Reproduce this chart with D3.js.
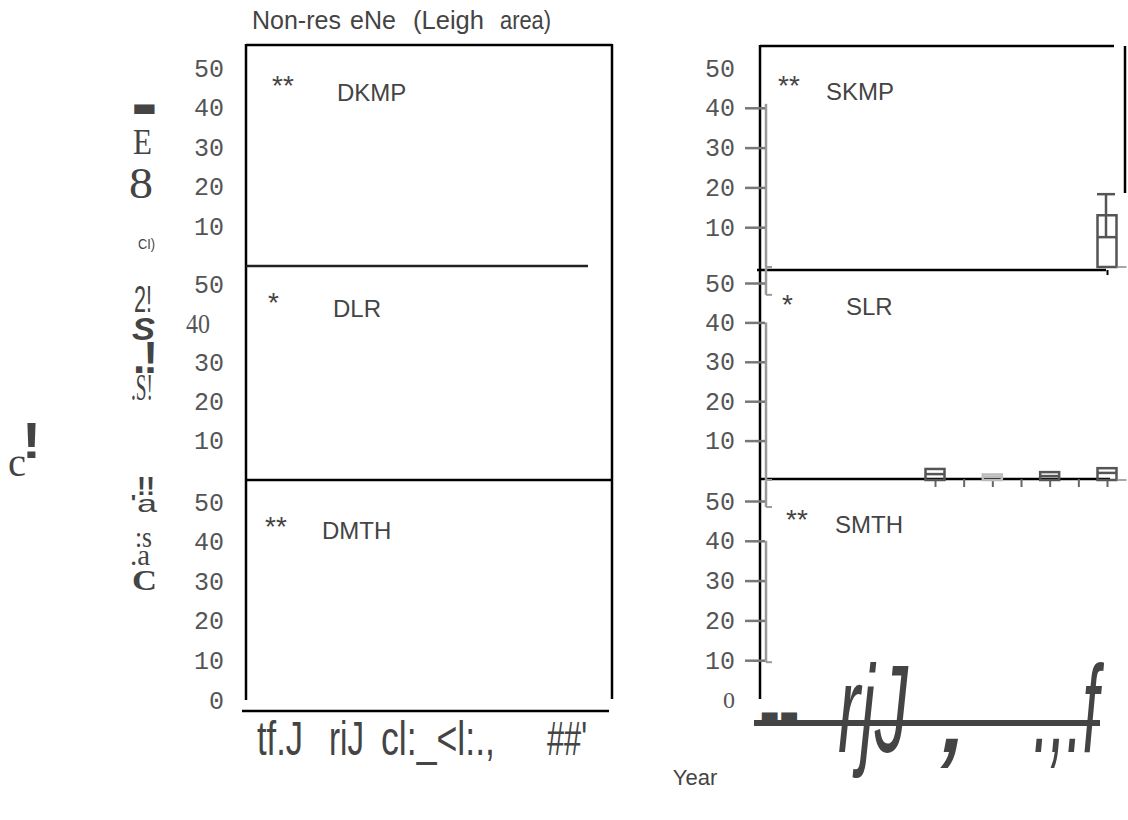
<!DOCTYPE html>
<html>
<head>
<meta charset="utf-8">
<script src="https://cdn.jsdelivr.net/npm/d3@7"></script>
<style>
  body { margin: 0; background: #fff; }
  svg { display: block; }
</style>
</head>
<body>
<svg id="chart" width="1128" height="820"></svg>
<script>
// ---- data ----
var yTicks = [50, 40, 30, 20, 10];
var yearSlots = [1, 2, 3, 4, 5, 6, 7];
var leftNames = ["DKMP", "DLR", "DMTH"];
var rightNames = ["SKMP", "SLR", "SMTH"];
var signif = ["**", "*", "**"];
var titleWords = ["Non-res", "eNe", "(Leigh", "area)"];
var xLabelsLeft = ["tf.J", "riJ", "cl:_<l:.,", "##'"];
var xLabelsRight = ["rjJ", ",", ".,.f"];

// box plots (value units) in the right column
var skmpBoxes = [{ year: 7, q1: 0, median: 7.5, q3: 13, hi: 18.3 }];
var slrBoxes = [
  { year: 1, q1: 0, median: 1.5, q3: 2.8 },
  { year: 3, q1: 0, median: 0.8, q3: 1.4 },
  { year: 5, q1: 0, median: 1.0, q3: 2.0 },
  { year: 7, q1: 0, median: 1.8, q3: 3.0 }
];

// faint scanned axis remnants in the right column, [from, to] in value units
var scanTraces = [
  [[0, 41]],
  [[0, 40], [47, 54]],
  [[9.5, 40], [48.5, 55]]
];

var svg = d3.select("#chart");
var ink = "#444";

// ---- scales ----
var yLeft = [
  d3.scaleLinear().domain([0, 50]).range([266, 68]),
  d3.scaleLinear().domain([0, 50]).range([480, 284]),
  d3.scaleLinear().domain([0, 50]).range([700, 502])
];
var yRight = [
  d3.scaleLinear().domain([0, 50]).range([267, 68]),
  d3.scaleLinear().domain([0, 50]).range([480, 283]),
  d3.scaleLinear().domain([0, 50]).range([700, 501])
];
var xRight = d3.scalePoint().domain(yearSlots).range([935, 1107]);

function line(x1, y1, x2, y2, w, c) {
  svg.append("line")
    .attr("x1", x1).attr("y1", y1).attr("x2", x2).attr("y2", y2)
    .style("stroke", c || "#000")
    .style("stroke-width", w || 2);
}

function label(txt, x, y, opt) {
  opt = opt || {};
  var t = svg.append("text")
    .attr("x", x).attr("y", y)
    .style("font-family", opt.font || "'Liberation Sans', Arial, sans-serif")
    .style("font-size", (opt.size || 24) + "px")
    .style("font-weight", opt.weight || "normal")
    .style("font-style", opt.style || "normal")
    .style("fill", opt.fill || ink)
    .attr("text-anchor", opt.anchor || "start")
    .text(txt);
  if (opt.len) {
    t.attr("textLength", opt.len).attr("lengthAdjust", opt.adjust || "spacingAndGlyphs");
  }
  return t;
}

// ---- title ----
label(titleWords[0], 252, 29, { size: 25 });
label(titleWords[1], 350, 29, { size: 25 });
label(titleWords[2], 413, 29, { size: 25, len: 71 });
label(titleWords[3], 500, 29, { size: 25, len: 51 });

// ---- left column frame ----
line(246, 45, 612, 45, 2.5);
line(246, 44, 246, 700, 2.5);
line(612, 44, 612, 699, 2.5);
line(246, 266, 588, 266, 2.5, "#222");
line(246, 480, 612, 480, 2.5);
line(242, 711, 609, 711, 2.5);

// left y axes
yLeft.forEach(function(y, i) {
  var ticks = i === 2 ? yTicks.concat([0]) : yTicks;
  var g = svg.append("g")
    .attr("transform", "translate(246,0)")
    .call(d3.axisLeft(y).tickValues(ticks).tickSize(0).tickPadding(22));
  g.select(".domain").remove();
  g.selectAll("text")
    .style("font-family", "'Liberation Mono', 'DejaVu Sans Mono', monospace")
    .style("font-size", "25px")
    .style("fill", "#555");
  if (i === 1) {
    g.selectAll(".tick").filter(function(d) { return d === 40; }).select("text")
      .style("font-family", "'Liberation Serif', serif")
      .style("font-size", "28px")
      .attr("x", -36)
      .attr("textLength", 24)
      .attr("lengthAdjust", "spacingAndGlyphs");
  }
});

// left panel names
var leftStar = [[272, 95], [268, 312], [265, 536]];
var leftName = [[337, 101], [333, 317], [322, 539]];
leftNames.forEach(function(n, i) {
  label(signif[i], leftStar[i][0], leftStar[i][1], { size: 28 });
  label(n, leftName[i][0], leftName[i][1]);
});

// ---- right column frame ----
line(760, 46, 1114, 46, 2.5);
line(1125, 46, 1125, 193, 2.5);
line(760, 45, 760, 699, 2.5);
line(757, 270, 1106, 270, 2.5);
line(760, 479, 1110, 479, 2.5);
line(754, 723, 1100, 723, 6, ink);

// scanned remnant traces
scanTraces.forEach(function(segs, i) {
  segs.forEach(function(s) {
    line(766, yRight[i](s[1]), 766, yRight[i](s[0]), 2.5, "#999");
    line(766, yRight[i](s[0]), 772, yRight[i](s[0]), 2, "#999");
  });
});

// right y axes
yRight.forEach(function(y, i) {
  var ticks = i === 2 ? yTicks.concat([0]) : yTicks;
  var g = svg.append("g")
    .attr("transform", "translate(765,0)")
    .call(d3.axisLeft(y).tickValues(ticks).tickSize(20).tickPadding(10));
  g.select(".domain").remove();
  g.selectAll(".tick line").style("stroke", "#777").style("stroke-width", 2.5);
  g.selectAll("text")
    .style("font-family", "'Liberation Mono', 'DejaVu Sans Mono', monospace")
    .style("font-size", "25px")
    .style("fill", "#555");
  if (i === 0) {
    g.selectAll(".tick").filter(function(d) { return d === 50; }).select("line").remove();
  }
  if (i === 2) {
    var z = g.selectAll(".tick").filter(function(d) { return d === 0; });
    z.select("line").remove();
    z.select("text")
      .style("font-family", "'Liberation Serif', serif")
      .style("font-size", "24px");
  }
});

// x ticks in the right column
var gx0 = svg.append("g").attr("transform", "translate(0,270)")
  .call(d3.axisBottom(xRight).tickValues([7]).tickSize(5).tickFormat(""));
gx0.select(".domain").remove();
gx0.selectAll("line").style("stroke", "#000").style("stroke-width", 2);

var gx1 = svg.append("g").attr("transform", "translate(0,479)")
  .call(d3.axisBottom(xRight).tickSize(8).tickFormat(""));
gx1.select(".domain").remove();
gx1.selectAll("line").style("stroke", "#666").style("stroke-width", 2);

// box plots
function drawBoxes(data, y, boxW, colorFn) {
  var g = svg.append("g");
  var b = g.selectAll("g.box").data(data).enter().append("g").attr("class", "box");
  b.append("rect")
    .attr("x", function(d) { return xRight(d.year) - boxW / 2; })
    .attr("y", function(d) { return y(d.q3); })
    .attr("width", boxW)
    .attr("height", function(d) { return y(d.q1) - y(d.q3); })
    .style("fill", "none")
    .style("stroke", colorFn)
    .style("stroke-width", 2.5);
  b.append("line")
    .attr("x1", function(d) { return xRight(d.year) - boxW / 2; })
    .attr("x2", function(d) { return xRight(d.year) + boxW / 2; })
    .attr("y1", function(d) { return y(d.median); })
    .attr("y2", function(d) { return y(d.median); })
    .style("stroke", colorFn)
    .style("stroke-width", 2.5);
  b.filter(function(d) { return d.hi != null; }).each(function(d) {
    var s = d3.select(this);
    s.append("line")
      .attr("x1", xRight(d.year) - 1).attr("x2", xRight(d.year) - 1)
      .attr("y1", y(d.hi)).attr("y2", y(d.median))
      .style("stroke", colorFn(d)).style("stroke-width", 2.5);
    s.append("line")
      .attr("x1", xRight(d.year) - 10).attr("x2", xRight(d.year) + 8)
      .attr("y1", y(d.hi)).attr("y2", y(d.hi))
      .style("stroke", colorFn(d)).style("stroke-width", 2.5);
  });
  b.append("line")
    .attr("x1", function(d) { return xRight(d.year) + boxW / 2; })
    .attr("x2", function(d) { return xRight(d.year) + boxW / 2 + 10; })
    .attr("y1", function(d) { return y(0); })
    .attr("y2", function(d) { return y(0); })
    .style("stroke", "#888")
    .style("stroke-width", function(d) { return d.year === 7 ? 1.5 : 0; });
}
drawBoxes(skmpBoxes, yRight[0], 19, function() { return "#555"; });
drawBoxes(slrBoxes, yRight[1], 19, function(d) { return d.year === 3 ? "#bbb" : "#555"; });

// right panel names
var rightStar = [[778, 95], [782, 314], [786, 529]];
var rightName = [[826, 100], [846, 315], [835, 533]];
rightNames.forEach(function(n, i) {
  label(signif[i], rightStar[i][0], rightStar[i][1], { size: 28 });
  label(n, rightName[i][0], rightName[i][1]);
});

// ---- garbled y-axis title glyphs (left) ----
var serif = "'Liberation Serif', 'DejaVu Serif', serif";
label("\u25AC", 132, 116, { font: "'DejaVu Sans', sans-serif", size: 26, len: 25 });
label("E", 133, 154, { font: serif, size: 36, len: 19 });
label("8", 129, 198, { font: serif, size: 44, len: 24 });
label("CI)", 138, 249, { size: 14, len: 17 });
label("2!", 134, 312, { size: 36, len: 18 });
label("S", 132, 340, { size: 32, weight: "bold", style: "italic", len: 23 });
label(".!", 133, 373, { size: 44, weight: "bold", len: 25, adjust: "spacing" });
label(".S!", 131, 400, { font: serif, size: 38, len: 22 });
label("!", 22, 458, { size: 50, weight: "bold", len: 19 });
label("c", 8, 476, { font: serif, size: 40, len: 18 });
label("!!", 137, 495, { size: 26, weight: "bold", len: 18 });
label("'a", 130, 512, { size: 24, len: 27 });
label(":s", 135, 547, { font: serif, size: 30, len: 17 });
label(".a", 130, 565, { font: serif, size: 30, len: 20 });
label("C", 132, 590, { font: serif, size: 30, weight: "bold", len: 25 });

// ---- garbled x-axis labels ----
var xl = [[257, 46], [329, 35], [381, 114], [547, 40]];
xLabelsLeft.forEach(function(t, i) {
  label(t, xl[i][0], 755, { size: 48, len: xl[i][1] });
});
label("\u25AC\u25AC", 760, 724, { font: "'DejaVu Sans', sans-serif", size: 26, len: 39 });
label(xLabelsRight[0], 838, 752, { size: 124, style: "italic", len: 70 });
label(xLabelsRight[1], 938, 752, { size: 124, style: "italic" });
label(xLabelsRight[2], 1033, 752, { size: 124, style: "italic", len: 66 });

// axis title
label("Year", 695, 785, { size: 22, anchor: "middle" });
</script>
</body>
</html>
